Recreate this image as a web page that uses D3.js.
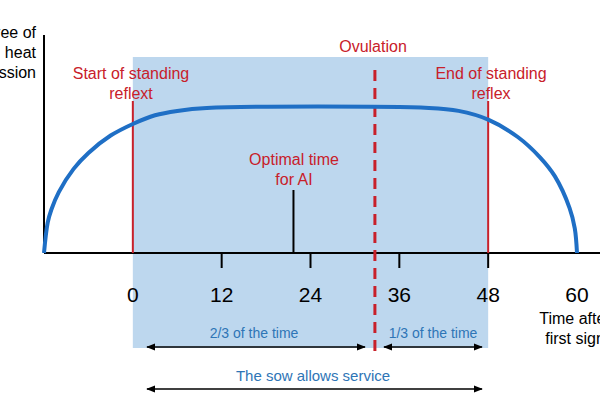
<!DOCTYPE html>
<html><head><meta charset="utf-8">
<script src="https://cdn.jsdelivr.net/npm/d3@7"></script>
<style>body{margin:0;background:#fff}text{font-family:Arial,"Liberation Sans",sans-serif}</style>
</head><body>
<script>
// hours after first sign and relative degree of heat expression
const hours = [-12, -11.5, -11, -10, -8, -6, -3, 0, 3, 6, 10, 40, 44, 48, 52, 55, 57, 59, 59.7, 60];
const heat = [0, 0.21, 0.3, 0.42, 0.58, 0.69, 0.81, 0.89, 0.95, 0.98, 1, 1, 0.98, 0.92, 0.8, 0.66, 0.53, 0.31, 0.17, 0];
const tickHours = [0, 12, 24, 36, 48, 60];
const standStart = 0, standEnd = 48, ovulation = 32.7, optimalAI = 21.7;

const svg = d3.select("body").append("svg").attr("width", 600).attr("height", 400);
const x = d3.scaleLinear().domain([-12, 60]).range([44, 577]);
const y = d3.scaleLinear().domain([0, 1]).range([253, 108]);
const red = "#c8202a", blue = "#2e75b6";

// shaded standing reflex region
svg.append("rect").attr("x", x(standStart)).attr("y", 57)
   .attr("width", x(standEnd) - x(standStart)).attr("height", 291).attr("fill", "#bdd7ee");

// axes
svg.append("line").attr("x1", 44).attr("x2", 44).attr("y1", 35).attr("y2", 253).attr("stroke", "#000").attr("stroke-width", 2);
svg.append("line").attr("x1", 44).attr("x2", 600).attr("y1", 253).attr("y2", 253).attr("stroke", "#000").attr("stroke-width", 2);
tickHours.forEach(function(h) {
	if (h > 0 && h < 60) svg.append("line").attr("x1", x(h)).attr("x2", x(h)).attr("y1", 253).attr("y2", 268).attr("stroke", "#000").attr("stroke-width", 2);
	svg.append("text").attr("x", x(h)).attr("y", 302).attr("text-anchor", "middle").attr("font-size", 21).text(h);
});

// red vertical markers
[standStart, standEnd].forEach(function(h) {
	svg.append("line").attr("x1", x(h)).attr("x2", x(h)).attr("y1", 101).attr("y2", 253).attr("stroke", red).attr("stroke-width", 2);
});
svg.append("line").attr("x1", x(optimalAI)).attr("x2", x(optimalAI)).attr("y1", 190).attr("y2", 253).attr("stroke", "#000").attr("stroke-width", 2);
svg.append("line").attr("x1", x(ovulation)).attr("x2", x(ovulation)).attr("y1", 70).attr("y2", 352)
   .attr("stroke", red).attr("stroke-width", 3).attr("stroke-dasharray", "11,7");

// curve
const line = d3.line().x(function(d, i) {return x(hours[i]);}).y(function(d) {return y(d);}).curve(d3.curveCatmullRom);
svg.append("path").attr("d", line(heat)).attr("fill", "none").attr("stroke", "#1f6fc5").attr("stroke-width", 4);

// texts
function label(lines, cx, cy, color, size, anchor) {
	const t = svg.append("text").attr("x", cx).attr("y", cy).attr("text-anchor", anchor || "middle").attr("font-size", size).attr("fill", color);
	lines.forEach(function(s, i) {t.append("tspan").attr("x", cx).attr("dy", i ? size * 1.25 : 0).text(s);});
}
label(["Ovulation"], 373, 52, red, 16);
label(["Start of standing", "reflext"], 131, 79, red, 16);
label(["End of standing", "reflex"], 491, 79, red, 16);
label(["Optimal time", "for AI"], 294, 165, red, 16);
label(["Degree of", "heat", "expression"], 36, 38, "#000", 16, "end");
label(["Time after", "first sign"], 575, 324, "#000", 16);
label(["2/3 of the time"], 254, 338, blue, 14);
label(["1/3 of the time"], 433, 338, blue, 14);
label(["The sow allows service"], 313, 381, blue, 15);

// arrows
svg.append("defs").append("marker").attr("id", "ah").attr("viewBox", "0 0 10 10").attr("refX", 9).attr("refY", 5)
   .attr("markerWidth", 6).attr("markerHeight", 6).attr("orient", "auto-start-reverse")
   .append("path").attr("d", "M0,1L10,5L0,9z").attr("fill", "#000");
[[147, 365, 347], [384, 482, 347], [147, 482, 389]].forEach(function(a) {
	svg.append("line").attr("x1", a[0]).attr("x2", a[1]).attr("y1", a[2]).attr("y2", a[2]).attr("stroke", "#000").attr("stroke-width", 1.5)
	   .attr("marker-start", "url(#ah)").attr("marker-end", "url(#ah)");
});
</script>
</body></html>
